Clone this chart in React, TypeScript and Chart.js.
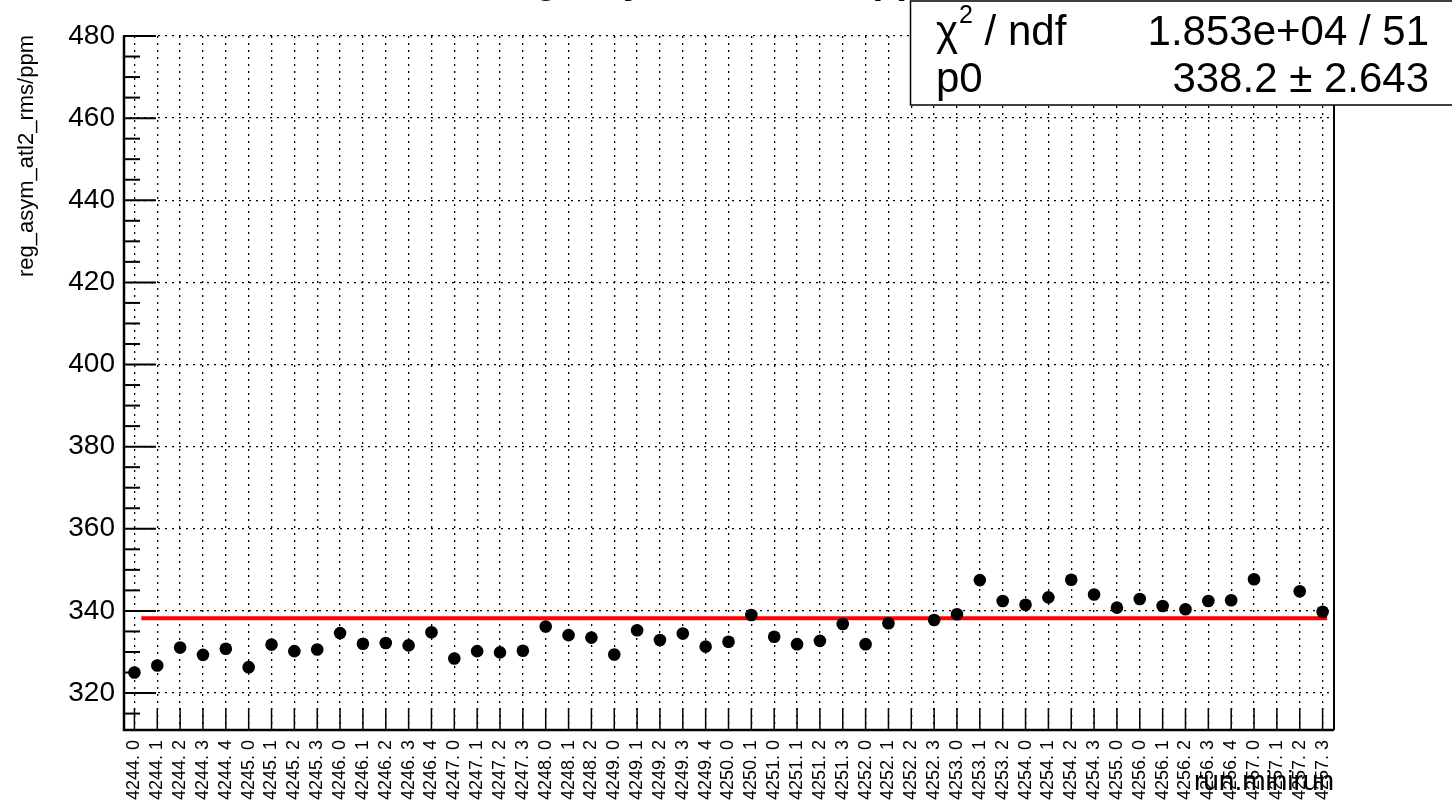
import React, { useEffect, useRef } from 'react';
import { Chart, registerables } from 'chart.js';

Chart.register(...registerables);

// ---- data ----
const runLabels: string[] = [
  '4244. 0', '4244. 1', '4244. 2', '4244. 3', '4244. 4',
  '4245. 0', '4245. 1', '4245. 2', '4245. 3',
  '4246. 0', '4246. 1', '4246. 2', '4246. 3', '4246. 4',
  '4247. 0', '4247. 1', '4247. 2', '4247. 3',
  '4248. 0', '4248. 1', '4248. 2',
  '4249. 0', '4249. 1', '4249. 2', '4249. 3', '4249. 4',
  '4250. 0', '4250. 1',
  '4251. 0', '4251. 1', '4251. 2', '4251. 3',
  '4252. 0', '4252. 1', '4252. 2', '4252. 3',
  '4253. 0', '4253. 1', '4253. 2',
  '4254. 0', '4254. 1', '4254. 2', '4254. 3',
  '4255. 0',
  '4256. 0', '4256. 1', '4256. 2', '4256. 3', '4256. 4',
  '4257. 0', '4257. 1', '4257. 2', '4257. 3',
];

const rmsValues: (number | null)[] = [
  325.0, 326.7, 331.1, 329.3, 330.8,
  326.3, 331.8, 330.2, 330.6,
  334.6, 332.0, 332.2, 331.6, 334.8,
  328.4, 330.2, 329.9, 330.3,
  336.2, 334.1, 333.5,
  329.4, 335.3, 332.9, 334.5, 331.3,
  332.5, 339.0,
  333.7, 331.9, 332.7, 336.8,
  331.9, 337.0, null, 337.8,
  339.2, 347.5, 342.4,
  341.5, 343.3, 347.6, 344.0,
  340.8,
  342.9, 341.2, 340.4, 342.4, 342.6,
  347.7, null, 344.8, 339.8,
];

const yMin = 311;
const yMax = 480;
const yMajorStep = 20;
const yMinorStep = 5;

const fitValue = 338.2;
const fitRange = [0.3, 52.2];

const titleText = 'reg_asym_atl2_rms/ppm';
const yTitle = 'reg_asym_atl2_rms/ppm';
const xTitle = 'run.minirun';
const statsChiLabel = ['\u03C7', '2', ' / ndf'];
const statsChiValue = '1.853e+04 / 51';
const statsP0Label = 'p0';
const statsP0Value = '338.2 \u00B1 2.643';

const FONT = '"Liberation Sans", Arial, Helvetica, sans-serif';

const rootDecor = {
  id: 'rootDecor',
  beforeDatasetsDraw(chart: any) {
    const { ctx, chartArea: a, scales } = chart;
    const x = scales.x;
    const y = scales.y;
    ctx.save();
    ctx.strokeStyle = '#000';
    // y ticks (inside)
    for (let v = Math.ceil(yMin / yMinorStep) * yMinorStep; v <= yMax; v += yMinorStep) {
      const py = y.getPixelForValue(v);
      const major = v % yMajorStep === 0;
      ctx.lineWidth = 2;
      ctx.beginPath();
      ctx.moveTo(a.left, py);
      ctx.lineTo(a.left + (major ? 33 : 17), py);
      ctx.stroke();
    }
    // x ticks (inside)
    ctx.lineWidth = 1.5;
    runLabels.forEach((_, i) => {
      const px = x.getPixelForValue(i);
      ctx.beginPath();
      ctx.moveTo(px, a.bottom);
      ctx.lineTo(px, a.bottom - 22);
      ctx.stroke();
    });
    // frame
    ctx.lineWidth = 2.5;
    ctx.beginPath();
    ctx.moveTo(a.left + 1, a.top);
    ctx.lineTo(a.left + 1, a.bottom);
    ctx.lineTo(a.right, a.bottom);
    ctx.stroke();
    ctx.lineWidth = 2;
    ctx.beginPath();
    ctx.moveTo(a.right, a.top);
    ctx.lineTo(a.right, a.bottom);
    ctx.stroke();
    ctx.restore();
  },
  afterDraw(chart: any) {
    const { ctx, chartArea: a, width } = chart;
    ctx.save();
    ctx.fillStyle = '#000';
    // title (mostly cut off at the top)
    ctx.font = `bold 39px ${FONT}`;
    ctx.textAlign = 'center';
    ctx.textBaseline = 'alphabetic';
    ctx.fillText(titleText, width / 2, -7);

    // y title
    ctx.save();
    ctx.translate(33, a.top - 1);
    ctx.rotate(-Math.PI / 2);
    ctx.font = `22px ${FONT}`;
    ctx.textAlign = 'right';
    ctx.fillText(yTitle, 0, 0);
    ctx.restore();

    // x title
    ctx.font = `28px ${FONT}`;
    ctx.textAlign = 'right';
    ctx.fillText(xTitle, a.right, 790);

    // stats box
    const bx = 910.5;
    const by = 1;
    const bw = width - bx + 5;
    const bh = 104;
    ctx.fillStyle = '#fff';
    ctx.fillRect(bx, by, bw, bh);
    ctx.strokeStyle = '#000';
    ctx.lineWidth = 1.5;
    ctx.strokeRect(bx, by, bw, bh);
    ctx.fillStyle = '#000';
    ctx.textAlign = 'left';
    ctx.font = `42px ${FONT}`;
    let tx = 936;
    ctx.fillText(statsChiLabel[0], tx, 45);
    tx += ctx.measureText(statsChiLabel[0]).width + 1;
    ctx.font = `25px ${FONT}`;
    ctx.fillText(statsChiLabel[1], tx, 23);
    tx += ctx.measureText(statsChiLabel[1]).width;
    ctx.font = `42px ${FONT}`;
    ctx.fillText(statsChiLabel[2], tx, 45);
    ctx.fillText(statsP0Label, 936, 92);
    ctx.textAlign = 'right';
    ctx.fillText(statsChiValue, 1429, 45);
    ctx.fillText(statsP0Value, 1429, 92);
    ctx.restore();
  },
};

export default function App() {
  const ref = useRef<HTMLCanvasElement | null>(null);
  useEffect(() => {
    document.body.style.margin = '0';
    const canvas = ref.current;
    if (!canvas) return;
    const points = rmsValues
      .map((v, i) => (v == null ? null : { x: i, y: v }))
      .filter((p) => p !== null) as { x: number; y: number }[];
    const fitLine = [
      { x: fitRange[0], y: fitValue },
      { x: fitRange[1], y: fitValue },
    ];
    const chart = new Chart(canvas, {
      type: 'scatter',
      data: {
        datasets: [
          {
            label: 'rms',
            data: points,
            pointRadius: 6.3,
            pointBackgroundColor: '#000',
            pointBorderWidth: 0,
            borderColor: '#000',
          },
          {
            type: 'line',
            label: 'fit',
            data: fitLine,
            borderColor: '#ff0000',
            borderWidth: 4,
            pointRadius: 0,
            showLine: true,
            fill: false,
          } as any,
        ],
      },
      options: {
        animation: false,
        responsive: false,
        events: [],
        layout: { padding: { left: 0, right: 118, top: 36, bottom: 0 } },
        plugins: {
          legend: { display: false },
          tooltip: { enabled: false },
          title: { display: false },
        },
        scales: {
          x: {
            type: 'linear',
            min: -0.5,
            max: runLabels.length - 0.5,
            afterBuildTicks: (s: any) => {
              s.ticks = runLabels.map((_, i) => ({ value: i }));
            },
            afterFit: (s: any) => { s.height = 73; },
            border: { display: false, dash: [2, 5] },
            grid: { color: '#000', lineWidth: 1.3, drawTicks: false },
            ticks: {
              autoSkip: false,
              minRotation: 90,
              maxRotation: 90,
              padding: 10,
              color: '#000',
              font: { family: FONT, size: 18 },
              callback: (v: any) => runLabels[Math.round(v)] ?? '',
            },
          },
          y: {
            type: 'linear',
            min: yMin,
            max: yMax,
            afterFit: (s: any) => { s.width = 123; },
            border: { display: false, dash: [2, 5] },
            grid: { color: '#000', lineWidth: 1.3, drawTicks: false },
            ticks: {
              stepSize: yMajorStep,
              includeBounds: false,
              padding: 8,
              color: '#000',
              font: { family: FONT, size: 28 },
            },
          },
        },
      },
      plugins: [rootDecor],
    });
    return () => chart.destroy();
  }, []);
  return <canvas ref={ref} width={1452} height={803} style={{ display: 'block' }} />;
}
